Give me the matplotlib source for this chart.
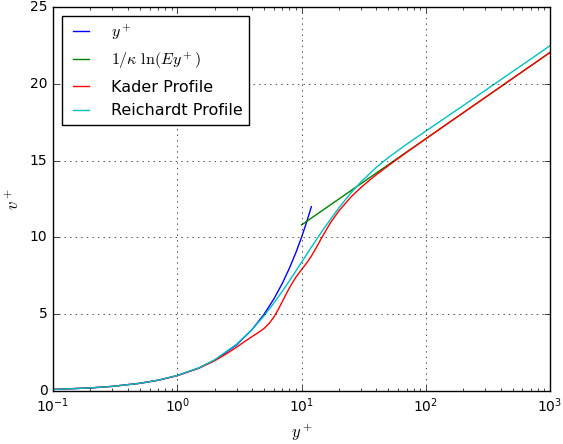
import matplotlib
matplotlib.use("Agg")
import matplotlib.pyplot as plt

plt.style.use("classic")

# Linear sublayer: v+ = y+
lin_y = [0.1, 0.2, 0.3, 0.5, 0.7, 1.0, 1.5, 2.0, 3.0, 4.0, 5.0, 6.0, 7.0, 8.0, 9.0, 10.0, 11.0, 12.0]
lin_v = [0.1, 0.2, 0.3, 0.5, 0.7, 1.0, 1.5, 2.0, 3.0, 4.0, 5.0, 6.0, 7.0, 8.0, 9.0, 10.0, 11.0, 12.0]

# Log law
log_y = [10.0, 1000.0]
log_v = [10.81, 22.04]

# Kader blended profile
kad_y = [0.1, 0.2, 0.3, 0.5, 0.7, 1.0, 1.5, 2.0, 2.5, 3.0, 3.5, 4.0, 4.5, 5.0, 5.5,
         6.0, 6.5, 7.0, 7.5, 8.0, 8.5, 9.0, 9.5, 10.0, 11.0, 12.0, 13.0, 15.0, 17.0,
         20.0, 25.0, 30.0, 35.0, 40.0, 50.0, 70.0, 100.0, 150.0, 200.0, 300.0,
         500.0, 700.0, 1000.0]
kad_v = [0.1, 0.2, 0.3, 0.5, 0.7, 1.0, 1.49, 1.97, 2.43, 2.85, 3.23, 3.54, 3.81, 4.07, 4.41,
         4.82, 5.31, 5.81, 6.29, 6.72, 7.08, 7.40, 7.66, 7.90, 8.33, 8.78, 9.26, 10.17, 10.92,
         11.73, 12.63, 13.24, 13.70, 14.08, 14.67, 15.53, 16.41, 17.41, 18.11, 19.10,
         20.35, 21.17, 22.04]

# Reichardt profile
rei_y = [0.1, 0.2, 0.3, 0.5, 0.7, 1.0, 1.5, 2.0, 3.0, 4.0, 5.0, 6.0, 7.0, 8.0, 10.0,
         12.0, 15.0, 20.0, 25.0, 30.0, 40.0, 50.0, 70.0, 100.0, 150.0, 200.0, 300.0,
         500.0, 700.0, 1000.0]
rei_v = [0.10, 0.20, 0.30, 0.50, 0.70, 1.01, 1.51, 2.03, 3.04, 4.00, 4.90, 5.73, 6.49, 7.18, 8.38,
         9.36, 10.53, 11.93, 12.90, 13.60, 14.56, 15.20, 16.06, 16.92, 17.89, 18.58, 19.56,
         20.80, 21.61, 22.48]

fig = plt.figure(figsize=(5.63, 4.44), dpi=100, facecolor="white")
ax = fig.add_axes([0.0941, 0.1194, 0.8829, 0.8649])

ax.semilogx(lin_y, lin_v, color="b", lw=1.0, label=r"$y^+$")
ax.semilogx(log_y, log_v, color="g", lw=1.0, label=r"$1/\kappa\ \ln(Ey^+)$")
ax.semilogx(kad_y, kad_v, color="r", lw=1.0, label="Kader Profile")
ax.semilogx(rei_y, rei_v, color="c", lw=1.0, label="Reichardt Profile")

ax.set_xlim(0.1, 1000)
ax.set_ylim(0, 25)
ax.grid(True)
ax.tick_params(labelsize=10)
ax.set_xlabel(r"$y^+$", fontsize=12)
ax.set_ylabel(r"$v^+$", fontsize=12)

ax.legend(loc="upper left", fontsize=11.5, handlelength=1.6, handletextpad=1.1,
          labelspacing=0.55, borderaxespad=0.55)

fig.savefig("out.png", dpi=100, facecolor="white")
